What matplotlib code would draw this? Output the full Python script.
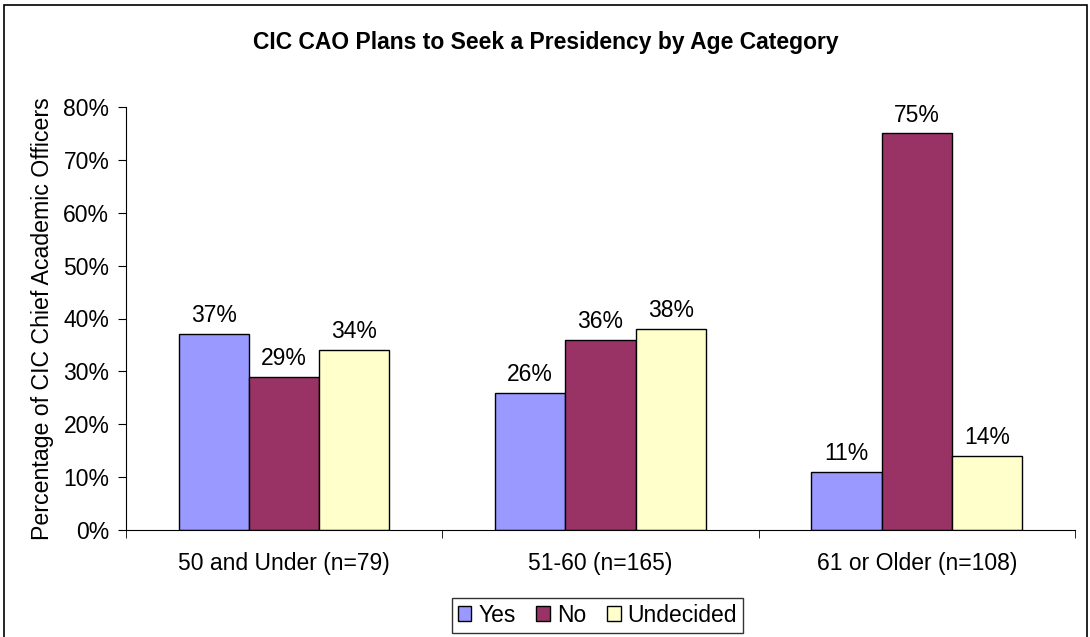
import matplotlib.pyplot as plt
import numpy as np
from matplotlib.patches import Rectangle

plt.rcParams['font.family'] = ['Liberation Sans', 'DejaVu Sans']

categories = ['50 and Under (n=79)', '51-60 (n=165)', '61 or Older (n=108)']
series_names = ['Yes', 'No', 'Undecided']
yes_pct = [37, 26, 11]
no_pct = [29, 36, 75]
undecided_pct = [34, 38, 14]
colors = ['#9999FF', '#993366', '#FFFFCC']

fig = plt.figure(figsize=(10.9, 6.37), dpi=100)
ax = fig.add_axes([0.1156, 0.168, 0.8705, 0.664])

# outer chart-area frame
fig.patches.append(Rectangle((0.004, -0.01), 0.993, 1.002, transform=fig.transFigure,
                             fill=False, edgecolor='black', linewidth=1.2))

x = np.arange(len(categories))
width = 0.222
for i, (name, vals) in enumerate(zip(series_names, [yes_pct, no_pct, undecided_pct])):
    pos = x + (i - 1) * width
    bars = ax.bar(pos, vals, width, color=colors[i], edgecolor='black', linewidth=1.0, label=name)
    for b, v in zip(bars, vals):
        ax.annotate(f'{v}%', (b.get_x() + b.get_width() / 2, v), xytext=(0, 5),
                    textcoords='offset points', ha='center', va='bottom', fontsize=16.5)

ax.set_xlim(-0.5, 2.5)
ax.set_ylim(0, 80)
ax.set_yticks(range(0, 81, 10))
ax.set_yticklabels([f'{t}%' for t in range(0, 81, 10)], fontsize=16.5)
ax.set_xticks(x)
ax.set_xticklabels(categories, fontsize=16.5)
ax.set_xticks([-0.5, 0.5, 1.5, 2.5], minor=True)
ax.tick_params(axis='x', which='major', length=0, pad=16)
ax.tick_params(axis='x', which='minor', length=6, direction='out')
ax.tick_params(axis='y', length=6, direction='out', pad=6)
ax.spines['top'].set_visible(False)
ax.spines['right'].set_visible(False)
ax.set_ylabel('Percentage of CIC Chief Academic Officers', fontsize=16.7, labelpad=7)

fig.text(0.501, 0.933, 'CIC CAO Plans to Seek a Presidency by Age Category',
         ha='center', va='center', fontsize=16.5, fontweight='bold')

leg = fig.legend(loc='center', bbox_to_anchor=(0.548, 0.034), ncol=3, fontsize=16.5,
                 frameon=True, fancybox=False, edgecolor='black', handlelength=0.6,
                 handleheight=0.6, handletextpad=0.3, columnspacing=0.9,
                 borderpad=0.25)
leg.get_frame().set_linewidth(1.0)

fig.savefig('out.png', dpi=100)
